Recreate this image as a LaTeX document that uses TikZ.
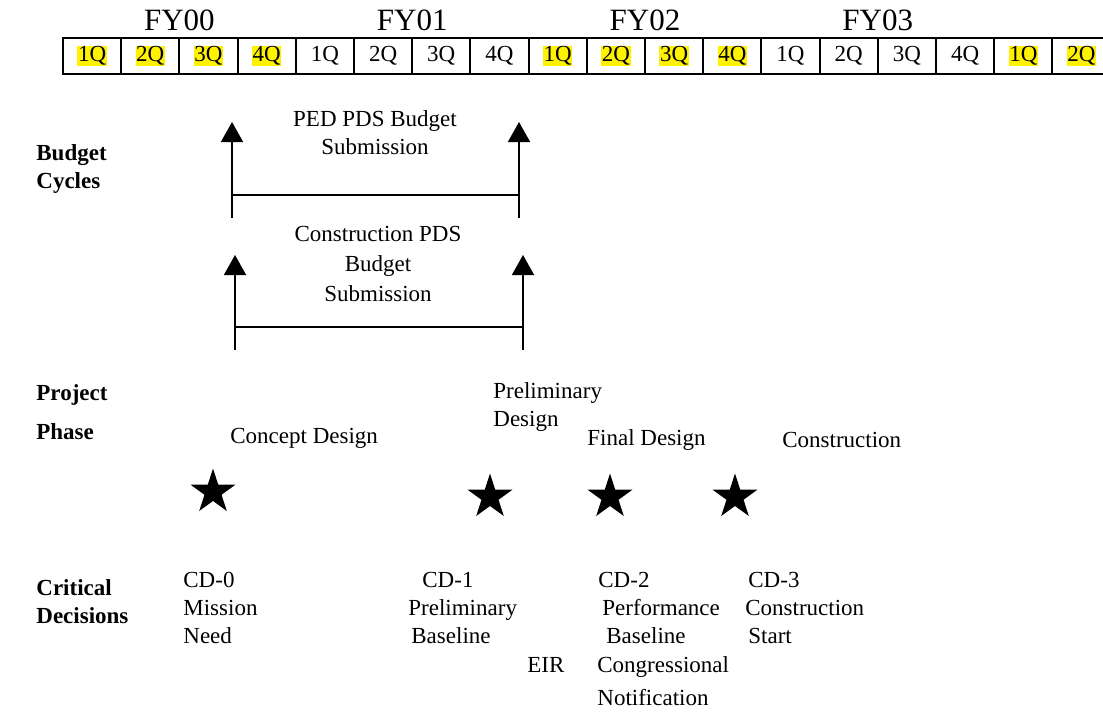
\documentclass[tikz,border=0pt]{standalone}
\usepackage{fontspec}
\setmainfont{Liberation Serif}
\usetikzlibrary{shapes.geometric,arrows.meta,positioning}

\begin{document}
\begin{tikzpicture}[x=0.5pt, y=-0.5pt,
    qcell/.style={rectangle, draw=black, line width=1pt, minimum width=29.1pt, minimum height=18pt, inner sep=0pt},
    qtext/.style={inner sep=0.3pt, font=\fontsize{11.5}{13}\selectfont},
    fy/.style={inner sep=0pt, font=\fontsize{15.5}{18}\selectfont},
    rowhead/.style={anchor=west, align=left, inner sep=0pt, font=\bfseries\fontsize{11.5}{14}\selectfont},
    txt/.style={anchor=west, align=left, inner sep=0pt, font=\fontsize{11.5}{14}\selectfont},
    cyc/.style={-{Triangle[length=10pt, width=11pt]}, line width=0.8pt},
    bar/.style={line width=0.8pt},
    milestone/.style={star, star points=5, star point ratio=2.62, fill=black, minimum size=23.5pt, inner sep=0pt}
]
\useasboundingbox (0,0) rectangle (1103,712);

% quarters and fiscal years
\foreach \i/\q/\hl in {1/1Q/yellow,2/2Q/yellow,3/3Q/yellow,4/4Q/yellow,5/1Q/none,6/2Q/none,7/3Q/none,8/4Q/none,
    9/1Q/yellow,10/2Q/yellow,11/3Q/yellow,12/4Q/yellow,13/1Q/none,14/2Q/none,15/3Q/none,16/4Q/none,17/1Q/yellow,18/2Q/yellow}{
  \node[qcell] (cell\i) at ({63+(\i-0.5)*58.2},56) {};
  \node[qtext, fill=\hl] (q\i) at (cell\i) {\q};
}
\foreach \k/\fyname in {0/FY00,1/FY01,2/FY02,3/FY03}
  \node[fy] (fy\k) at ({63+(4*\k+2)*58.2},20) {\fyname};

% row headings
\node[rowhead] (budget) at (36,169) {Budget\\Cycles};
\node[rowhead, font=\bfseries\fontsize{11.5}{19.5}\selectfont] (phase) at (36,412) {Project\\Phase};
\node[rowhead] (critical) at (36,602) {Critical\\Decisions};

% budget cycles
\coordinate (pedLb) at (232,218); \coordinate (pedLt) at (232,122); \coordinate (pedLh) at (232,195);
\coordinate (pedRb) at (519,218); \coordinate (pedRt) at (519,122); \coordinate (pedRh) at (519,195);
\draw[cyc] (pedLb) -- (pedLt);
\draw[cyc] (pedRb) -- (pedRt);
\draw[bar] (pedLh) -- (pedRh);
\node[txt, anchor=center, align=center] (ped) at (375,133) {PED PDS Budget\\Submission};

\coordinate (conLb) at (235,350); \coordinate (conLt) at (235,255); \coordinate (conLh) at (235,327);
\coordinate (conRb) at (523,350); \coordinate (conRt) at (523,255); \coordinate (conRh) at (523,327);
\draw[cyc] (conLb) -- (conLt);
\draw[cyc] (conRb) -- (conRt);
\draw[bar] (conLh) -- (conRh);
\node[txt, anchor=center, align=center, font=\fontsize{11.5}{15}\selectfont] (con) at (378,264) {Construction PDS\\Budget\\Submission};

% project phases
\node[txt] (concept) at (230,438) {Concept Design};
\node[txt] (prelim) at (493,407) {Preliminary\\Design};
\node[txt] (final) at (587,440) {Final Design};
\node[txt] (constr) at (782,440) {Construction};

% critical decisions
\node[milestone] (star0) at (213,492) {};
\node[milestone] (star1) at (490,497) {};
\node[milestone] (star2) at (610,497) {};
\node[milestone] (star3) at (735,497) {};

\node[txt] (cd0) at (183,608) {CD-0\\Mission\\Need};
\node[txt] (cd1) at (408,608) {\hspace{7pt}CD-1\\Preliminary\\\hspace{1.5pt}Baseline};
\node[txt] (cd2) at (598,608) {CD-2\\\hspace{2pt}Performance\\\hspace{4pt}Baseline};
\node[txt] (cd3) at (745,608) {\hspace{1.5pt}CD-3\\Construction\\\hspace{1.5pt}Start};

\node[txt] (eir) at (527,665) {EIR};
\node[txt, font=\fontsize{11.5}{16.5}\selectfont] (notif) at (597,681) {Congressional\\Notification};
\end{tikzpicture}
\end{document}
